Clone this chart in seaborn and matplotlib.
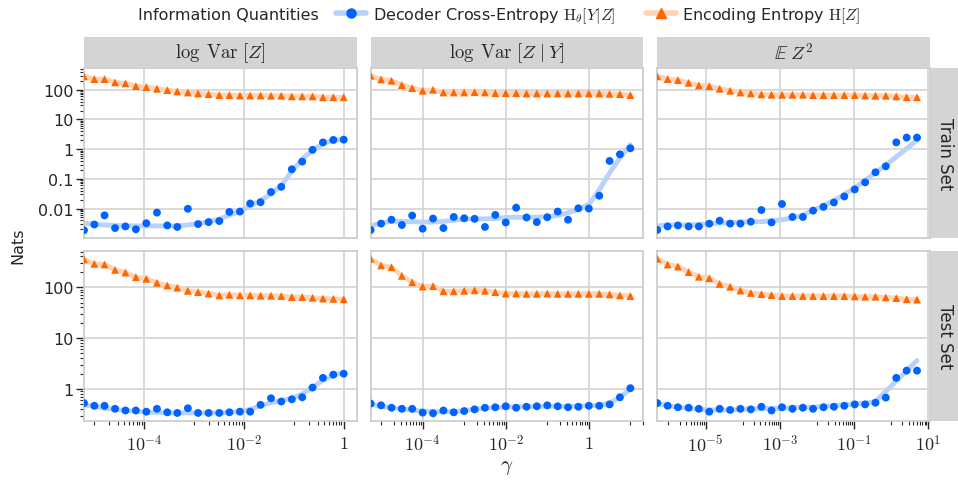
import numpy as np
import pandas as pd
import seaborn as sns
import matplotlib.pyplot as plt
from matplotlib.lines import Line2D
from matplotlib.patches import Rectangle
from matplotlib.ticker import FixedLocator, FuncFormatter, LogLocator, NullFormatter

splits = ["Train Set", "Test Set"]
regularizers = [r"$\log\;\mathrm{Var}\ [Z]$", r"$\log\;\mathrm{Var}\ [Z\;|\;Y]$", r"$\mathbb{E}\;Z^2$"]
quantities = [r"Decoder Cross-Entropy $\mathrm{H}_\theta[Y|Z]$", r"Encoding Entropy $\mathrm{H}[Z]$"]

# gamma values used for each regularizer (26 runs each)
gamma_logvar = [6.2e-6, 1.0e-5, 1.6e-5, 2.6e-5, 4.2e-5, 6.8e-5, 1.1e-4, 1.8e-4, 2.9e-4, 4.6e-4,
                7.5e-4, 1.2e-3, 1.95e-3, 3.2e-3, 5.1e-3, 8.3e-3, 0.0133, 0.0215, 0.0348, 0.056,
                0.091, 0.147, 0.237, 0.383, 0.619, 1.0]
gamma_logvar_cond = [5.6e-6, 1.0e-5, 1.78e-5, 3.16e-5, 5.6e-5, 1.0e-4, 1.78e-4, 3.16e-4, 5.6e-4, 1.0e-3,
                     1.78e-3, 3.16e-3, 5.6e-3, 0.01, 0.0178, 0.0316, 0.056, 0.1, 0.178, 0.316,
                     0.56, 1.0, 1.78, 3.16, 5.6, 10.0]
gamma_ez2 = [5.0e-7, 9.5e-7, 1.8e-6, 3.5e-6, 6.6e-6, 1.26e-5, 2.4e-5, 4.6e-5, 8.7e-5, 1.66e-4,
             3.2e-4, 6.0e-4, 1.15e-3, 2.2e-3, 4.2e-3, 7.9e-3, 0.0151, 0.0288, 0.055, 0.105,
             0.2, 0.38, 0.72, 1.38, 2.63, 5.0]

# train set
dec_train_logvar = [0.00186, 0.0029, 0.0059, 0.0022, 0.0025, 0.0020, 0.0032, 0.0073, 0.0027, 0.0024,
                    0.0098, 0.0030, 0.0035, 0.0038, 0.0077, 0.0079, 0.0148, 0.0163, 0.036, 0.054,
                    0.21, 0.38, 0.95, 1.69, 2.04, 2.09]
dec_train_logvar_trend = [0.0032, 0.0030, 0.0028, 0.0027, 0.0026, 0.0026, 0.0026, 0.0026, 0.0026, 0.0026,
                          0.0028, 0.0031, 0.0036, 0.0044, 0.006, 0.0082, 0.0123, 0.0187, 0.031, 0.06,
                          0.18, 0.46, 0.91, 1.55, 2.0, 2.14]
enc_train_logvar = [282, 229, 229, 177, 164, 133, 123, 108, 97, 88, 81, 75, 71, 66, 66, 64, 64, 64,
                    63, 63, 60, 60, 60, 56, 56, 56]

dec_train_logvar_cond = [0.0019, 0.0031, 0.0042, 0.0028, 0.0058, 0.0021, 0.0046, 0.0022, 0.0052, 0.0047,
                         0.0045, 0.0024, 0.0061, 0.0034, 0.0107, 0.0050, 0.0035, 0.0051, 0.0079, 0.0042,
                         0.0102, 0.0100, 0.027, 0.40, 0.67, 1.07]
dec_train_logvar_cond_trend = [0.0026, 0.0033, 0.0037, 0.0037, 0.0036, 0.0035, 0.0035, 0.0037, 0.0040, 0.0044,
                               0.0045, 0.0045, 0.0046, 0.0050, 0.0051, 0.0051, 0.0051, 0.0053, 0.0059, 0.0072,
                               0.0093, 0.0138, 0.042, 0.16, 0.5, 1.4]
enc_train_logvar_cond = [297, 223, 201, 144, 114, 93, 100, 81, 81, 81, 83, 81, 77, 77, 77, 75, 75, 75,
                         75, 75, 75, 75, 75, 73, 71, 66]

dec_train_ez2 = [0.0019, 0.0025, 0.0027, 0.0025, 0.0025, 0.0031, 0.0039, 0.0031, 0.0031, 0.0036,
                 0.0089, 0.0034, 0.0142, 0.0052, 0.0052, 0.0085, 0.0114, 0.0160, 0.0255, 0.044,
                 0.076, 0.166, 0.265, 1.69, 2.45, 2.45]
dec_train_ez2_trend = [0.0026, 0.0028, 0.0028, 0.0028, 0.0029, 0.0031, 0.0032, 0.0034, 0.0035, 0.0036,
                       0.0036, 0.0039, 0.0042, 0.0048, 0.0060, 0.0087, 0.0124, 0.0187, 0.030, 0.050,
                       0.089, 0.162, 0.29, 0.55, 1.05, 2.0]
enc_train_ez2 = [282, 229, 212, 172, 140, 133, 108, 93, 81, 75, 70, 68, 68, 68, 68, 66, 66, 66,
                 66, 66, 64, 63, 63, 60, 56, 56]

# test set
dec_test_logvar = [0.53, 0.47, 0.47, 0.41, 0.38, 0.38, 0.36, 0.41, 0.35, 0.34, 0.42, 0.34, 0.34,
                   0.34, 0.35, 0.36, 0.36, 0.49, 0.66, 0.57, 0.63, 0.69, 1.07, 1.66, 1.92, 2.0]
dec_test_logvar_trend = [0.49, 0.46, 0.42, 0.40, 0.38, 0.37, 0.35, 0.35, 0.34, 0.34, 0.34, 0.34, 0.34,
                         0.34, 0.35, 0.36, 0.40, 0.47, 0.54, 0.59, 0.66, 0.80, 1.08, 1.49, 1.86, 2.12]
enc_test_logvar = [350, 287, 279, 219, 194, 157, 146, 122, 108, 98, 85, 80, 75, 69, 71, 69, 69, 68,
                   68, 67, 64, 64, 62, 60, 59, 58]

dec_test_logvar_cond = [0.52, 0.48, 0.43, 0.41, 0.41, 0.345, 0.335, 0.38, 0.35, 0.37, 0.40, 0.43, 0.44,
                        0.46, 0.43, 0.45, 0.46, 0.48, 0.46, 0.44, 0.45, 0.47, 0.47, 0.50, 0.69, 1.04]
dec_test_logvar_cond_trend = [0.50, 0.46, 0.43, 0.41, 0.39, 0.37, 0.36, 0.36, 0.36, 0.38, 0.40, 0.42, 0.43,
                              0.44, 0.45, 0.45, 0.46, 0.46, 0.46, 0.46, 0.46, 0.47, 0.48, 0.53, 0.69, 1.0]
enc_test_logvar_cond = [361, 267, 247, 167, 125, 103, 105, 83, 83, 85, 87, 85, 80, 75, 75, 74, 74, 75,
                        74, 74, 74, 74, 74, 72, 69, 67]

dec_test_ez2 = [0.53, 0.47, 0.44, 0.43, 0.41, 0.36, 0.41, 0.39, 0.41, 0.40, 0.45, 0.38, 0.44,
                0.41, 0.43, 0.41, 0.44, 0.45, 0.47, 0.50, 0.50, 0.54, 0.68, 1.66, 2.3, 2.3]
dec_test_ez2_trend = [0.515, 0.48, 0.44, 0.42, 0.40, 0.39, 0.39, 0.39, 0.40, 0.41, 0.41, 0.42, 0.42,
                      0.43, 0.44, 0.44, 0.46, 0.47, 0.49, 0.515, 0.53, 0.57, 0.90, 1.44, 2.29, 3.64]
enc_test_ez2 = [361, 279, 255, 198, 160, 150, 116, 102, 86, 77, 73, 70, 67, 67, 67, 67, 67, 67,
                67, 66, 65, 65, 63, 61, 58, 57]

panels = [
    ("Train Set", regularizers[0], gamma_logvar, dec_train_logvar, dec_train_logvar_trend, enc_train_logvar),
    ("Train Set", regularizers[1], gamma_logvar_cond, dec_train_logvar_cond, dec_train_logvar_cond_trend, enc_train_logvar_cond),
    ("Train Set", regularizers[2], gamma_ez2, dec_train_ez2, dec_train_ez2_trend, enc_train_ez2),
    ("Test Set", regularizers[0], gamma_logvar, dec_test_logvar, dec_test_logvar_trend, enc_test_logvar),
    ("Test Set", regularizers[1], gamma_logvar_cond, dec_test_logvar_cond, dec_test_logvar_cond_trend, enc_test_logvar_cond),
    ("Test Set", regularizers[2], gamma_ez2, dec_test_ez2, dec_test_ez2_trend, enc_test_ez2),
]

frames = []
for split, reg, gamma, dec, dec_trend, enc in panels:
    frames.append(pd.DataFrame({"gamma": gamma, "nats": dec, "trend": dec_trend,
                                "quantity": quantities[0], "reg": reg, "split": split}))
    frames.append(pd.DataFrame({"gamma": gamma, "nats": enc, "trend": enc,
                                "quantity": quantities[1], "reg": reg, "split": split}))
df = pd.concat(frames, ignore_index=True)

blue = "#0062ff"
orange = "#ff6600"
colors = dict(zip(quantities, [blue, orange]))
light = dict(zip(quantities, ["#b9d2fb", "#ffd3b6"]))
text_color = "#262626"

sns.set_theme(style="whitegrid")
plt.rcParams["font.family"] = ["DejaVu Sans"]
plt.rcParams["mathtext.fontset"] = "cm"
plt.rcParams["text.color"] = text_color
plt.rcParams["xtick.color"] = text_color
plt.rcParams["ytick.color"] = text_color


def draw(data, **kws):
    ax = plt.gca()
    sns.lineplot(data=data, x="gamma", y="trend", hue="quantity", hue_order=quantities,
                 palette=light, lw=3.5, legend=False, errorbar=None, ax=ax)
    sns.scatterplot(data=data, x="gamma", y="nats", hue="quantity", style="quantity",
                    hue_order=quantities, style_order=quantities, markers=["o", "^"],
                    palette=colors, s=32, linewidth=0, legend=False, ax=ax, zorder=3)


g = sns.FacetGrid(df, row="split", col="reg", row_order=splits, col_order=regularizers,
                  sharex="col", sharey="row", despine=False, height=2, aspect=1.6)
g.map_dataframe(draw)
g.set(xscale="log", yscale="log")
g.set_titles("")
g.set_axis_labels("", "")

fig = g.figure
fig.set_size_inches(9.58, 4.85)
fig.subplots_adjust(left=84 / 958, right=930 / 958, top=1 - 69 / 485, bottom=1 - 422 / 485,
                    wspace=0.051, hspace=0.077)

gammas = [gamma_logvar, gamma_logvar_cond, gamma_ez2]
x_major = [[1e-4, 1e-2, 1], [1e-4, 1e-2, 1], [1e-5, 1e-3, 1e-1, 10]]
x_minor_decades = [(-5, -3, -1), (-5, -3, -1, 1), (-6, -4, -2, 0)]


def x_label(v, pos):
    if np.isclose(v, 1):
        return "$1$"
    return "$10^{%d}$" % int(round(np.log10(v)))


strip_color = "#d4d4d4"
for i in range(2):
    for j in range(3):
        ax = g.axes[i, j]
        ax.set_xlim(left=min(gammas[j]))
        ax.xaxis.set_major_locator(FixedLocator(x_major[j]))
        ax.xaxis.set_minor_locator(FixedLocator([s * 10.0 ** k for k in x_minor_decades[j] for s in range(1, 10)]))
        ax.xaxis.set_major_formatter(FuncFormatter(x_label))
        ax.xaxis.set_minor_formatter(NullFormatter())
        ax.yaxis.set_major_locator(LogLocator(base=10, numticks=15))
        ax.yaxis.set_minor_locator(LogLocator(base=10, subs=np.arange(2, 10), numticks=15))
        ax.yaxis.set_major_formatter(FuncFormatter(lambda v, pos: f"{v:g}"))
        ax.yaxis.set_minor_formatter(NullFormatter())

        ax.grid(True, which="major", color="#d3d3d3", lw=1.2)
        ax.grid(False, which="minor")
        for sp in ax.spines.values():
            sp.set_color("#cccccc")
            sp.set_linewidth(1.25)

        ax.tick_params(axis="y", which="both", left=(j == 0), labelleft=(j == 0),
                       labelsize=11.5, pad=2)
        ax.tick_params(axis="x", which="both", bottom=(i == 1), labelbottom=(i == 1),
                       labelsize=13, pad=4)
        ax.tick_params(which="major", length=5.5, width=1)
        ax.tick_params(which="minor", length=3, width=0.8)

        if i == 0:
            ax.add_patch(Rectangle((0, 1.006), 1, 0.176, transform=ax.transAxes,
                                   facecolor=strip_color, edgecolor="none", clip_on=False))
            ax.text(0.5, 1.094, regularizers[j], transform=ax.transAxes, ha="center",
                    va="center", fontsize=13.5)
        if j == 2:
            ax.add_patch(Rectangle((1.004, 0), 0.103, 1, transform=ax.transAxes,
                                   facecolor=strip_color, edgecolor="none", clip_on=False))
            ax.text(1.056, 0.5, splits[i], transform=ax.transAxes, ha="center",
                    va="center", rotation=270, fontsize=12)

fig.text(17.5 / 958, 1 - 245.5 / 485, "Nats", rotation=90, ha="center", va="center", fontsize=11.5)
fig.text(507 / 958, 1 - 467 / 485, r"$\gamma$", ha="center", va="center", fontsize=15)

handles = [Line2D([0], [0], color=light[quantities[0]], lw=4, marker="o", ms=6.5,
                  mfc=blue, mec=blue),
           Line2D([0], [0], color=light[quantities[1]], lw=4, marker="^", ms=6.5,
                  mfc=orange, mec=orange)]
fig.text(138 / 958, 1 - 16 / 485, "Information Quantities", ha="left", va="center", fontsize=11.5)
fig.legend(handles, quantities, loc="center left", bbox_to_anchor=(336 / 958, 1 - 16 / 485),
           ncol=2, frameon=False, fontsize=11.5, handlelength=1.9, handletextpad=0.4,
           columnspacing=1.9, borderpad=0, borderaxespad=0)

fig.savefig("out.png", dpi=100)
